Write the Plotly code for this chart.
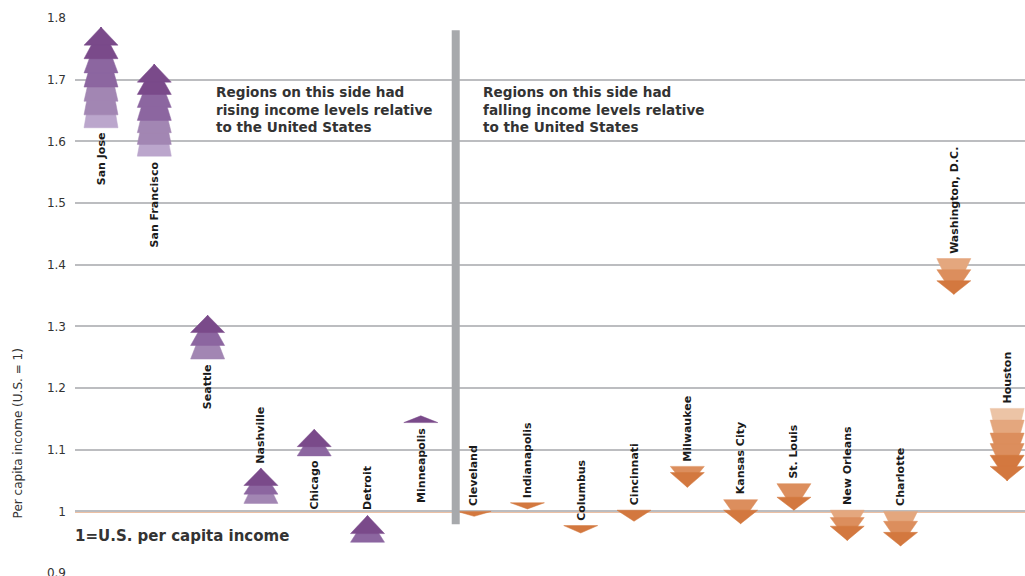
import math
import plotly.graph_objects as go

# ---------------- data ----------------
cities = ["San Jose", "San Francisco", "Seattle", "Nashville", "Chicago", "Detroit",
          "Minneapolis", "Cleveland", "Indianapolis", "Columbus", "Cincinnati",
          "Milwaukee", "Kansas City", "St. Louis", "New Orleans", "Charlotte",
          "Washington, D.C.", "Houston"]

# final value (arrow tip) for each region
end_values = [1.785, 1.725, 1.318, 1.070, 1.133, 0.9935, 1.155,
              0.992, 1.004, 0.965, 0.984, 1.039, 0.980, 1.002,
              0.953, 0.944, 1.352, 1.050]

# starting values (arrow bases), earliest first
start_values = [
    [1.622, 1.643, 1.665, 1.688, 1.711, 1.734, 1.756],   # San Jose
    [1.576, 1.595, 1.614, 1.634, 1.655, 1.676, 1.696],   # San Francisco
    [1.247, 1.269, 1.290],                               # Seattle
    [1.013, 1.028, 1.042],                               # Nashville
    [1.090, 1.105],                                      # Chicago
    [0.950, 0.964],                                      # Detroit
    [1.144],                                             # Minneapolis
    [1.000],                                             # Cleveland
    [1.014],                                             # Indianapolis
    [0.977],                                             # Columbus
    [1.002],                                             # Cincinnati
    [1.073, 1.063],                                      # Milwaukee
    [1.019, 1.002],                                      # Kansas City
    [1.045, 1.023],                                      # St. Louis
    [1.002, 0.990, 0.976],                               # New Orleans
    [1.000, 0.984, 0.966],                               # Charlotte
    [1.410, 1.392, 1.374],                               # Washington, D.C.
    [1.167, 1.148, 1.127, 1.110, 1.091, 1.073],          # Houston
]

y_tick_values = [0.9, 1.0, 1.1, 1.2, 1.3, 1.4, 1.5, 1.6, 1.7, 1.8]
y_tick_labels = ["0.9", "1", "1.1", "1.2", "1.3", "1.4", "1.5", "1.6", "1.7", "1.8"]

labels_below = {"San Jose", "San Francisco", "Seattle", "Chicago", "Minneapolis"}

# ---------------- styles ----------------
purple_ramp = ["#7a4a8a", "#8c66a0", "#a286b3", "#bba6cc"]
orange_ramp = ["#d3783f", "#dc8e5d", "#e4a77e", "#ecc4a6"]
HALF_W = 0.319
FONT = "DejaVu Sans"
TEXT_COLOR = "#333333"

fig = go.Figure()

for i, (name, tip, starts) in enumerate(zip(cities, end_values, start_values)):
    rising = tip > starts[0]
    ramp = purple_ramp if rising else orange_ramp
    n = len(starts)
    for j, base in enumerate(starts):
        k = n - 1 - j
        shade = k if n <= 4 else int(math.floor(k * 3 / (n - 1)))
        col = ramp[min(shade, 3)]
        fig.add_trace(go.Scatter(
            x=[i - HALF_W, i + HALF_W, i, i - HALF_W],
            y=[base, base, tip, base],
            mode="lines", fill="toself", fillcolor=col,
            line=dict(color=col, width=0.5),
            hoverinfo="skip", showlegend=False))

    lo = min(starts + [tip])
    hi = max(starts + [tip])
    if name in labels_below:
        fig.add_annotation(x=i, y=lo, xref="x", yref="y", text="<b>%s</b>" % name,
                           textangle=-90, showarrow=False, xanchor="center",
                           yanchor="top", yshift=-3,
                           font=dict(family=FONT, size=11, color="#1a1a1a"))
    else:
        fig.add_annotation(x=i, y=hi, xref="x", yref="y", text="<b>%s</b>" % name,
                           textangle=-90, showarrow=False, xanchor="center",
                           yanchor="bottom", yshift=3,
                           font=dict(family=FONT, size=11, color="#1a1a1a"))

# reference line at 1 (US)
fig.add_shape(type="line", xref="paper", yref="y", x0=0, x1=1, y0=1, y1=1,
              line=dict(color="#d9824a", width=2.2), layer="between")
# divider bar
fig.add_shape(type="line", xref="x", yref="y", x0=6.655, x1=6.655, y0=0.979, y1=1.780,
              line=dict(color="#a7a9ac", width=8), layer="above")

fig.add_annotation(x=2.176, y=1.696, xref="x", yref="y", xanchor="left", yanchor="top",
                   align="left", showarrow=False, xshift=-3,
                   text="<b>Regions on this side had<br>rising income levels relative<br>to the United States</b>",
                   font=dict(family=FONT, size=13.6, color=TEXT_COLOR))
fig.add_annotation(x=7.186, y=1.696, xref="x", yref="y", xanchor="left", yanchor="top",
                   align="left", showarrow=False, xshift=-3,
                   text="<b>Regions on this side had<br>falling income levels relative<br>to the United States</b>",
                   font=dict(family=FONT, size=13.6, color=TEXT_COLOR))
fig.add_annotation(x=0, y=0.9595, xref="paper", yref="y", xanchor="left", yanchor="middle",
                   showarrow=False, text="<b>1=U.S. per capita income</b>", xshift=-2,
                   font=dict(family=FONT, size=15, color=TEXT_COLOR))
fig.add_annotation(x=-0.06, y=1.1265, xref="paper", yref="y", xanchor="center", yanchor="middle",
                   showarrow=False, textangle=-90, text="Per capita income (U.S. = 1)",
                   font=dict(family=FONT, size=12, color=TEXT_COLOR))

fig.update_layout(
    width=1025, height=576,
    margin=dict(l=75, r=0, t=18, b=2, autoexpand=False),
    paper_bgcolor="white", plot_bgcolor="white",
    hovermode=False,
    xaxis=dict(range=[-0.4878, 17.335], visible=False, automargin=False),
    yaxis=dict(range=[0.8985, 1.8], tickvals=y_tick_values, ticktext=y_tick_labels,
               showgrid=True, gridcolor="#bcbdc0", gridwidth=2, automargin=False,
               zeroline=False, showline=False, ticks="", ticklabelstandoff=8,
               ticklabeloverflow="allow",
               tickfont=dict(family=FONT, size=12, color=TEXT_COLOR)),
)

fig.write_html("out.html")
